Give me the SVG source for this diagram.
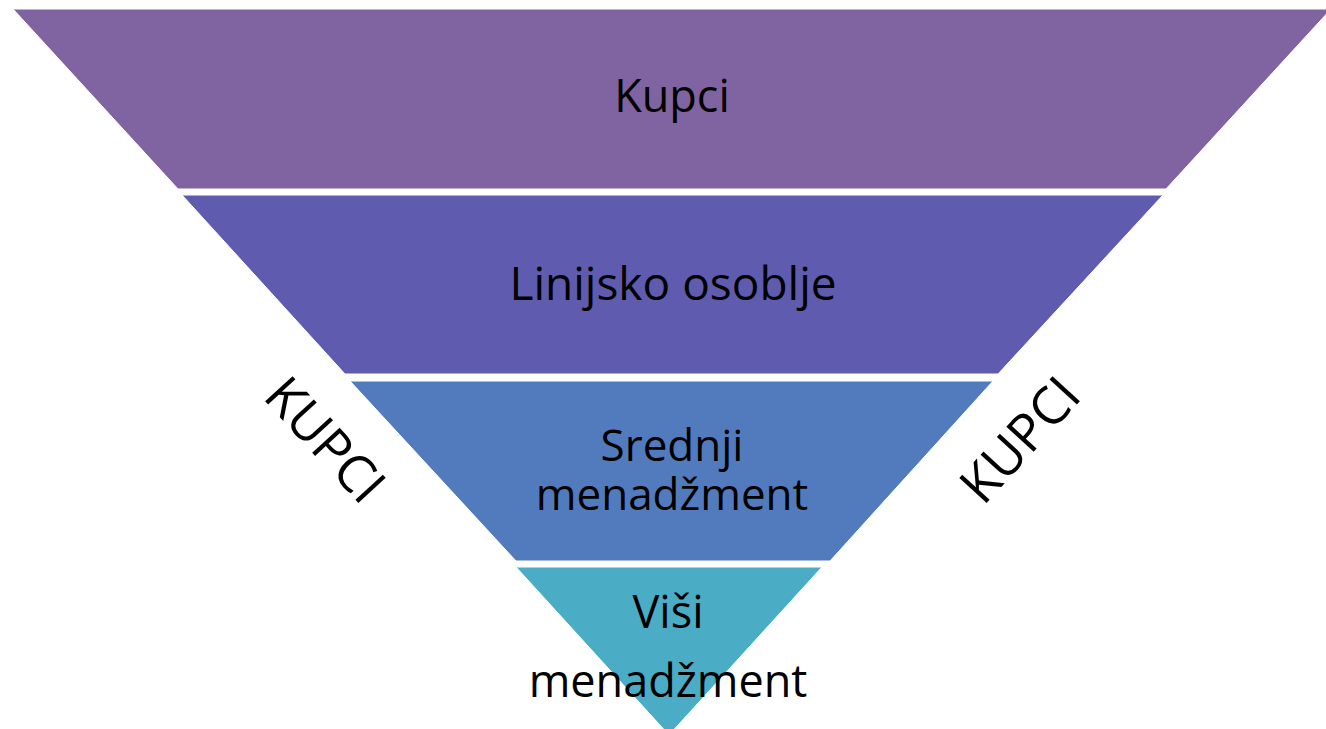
<svg xmlns="http://www.w3.org/2000/svg" width="1326" height="729" viewBox="0 0 1326 729">
<style>
.band{stroke:#ffffff;stroke-width:1}
.t{font-family:"Open Sans","DejaVu Sans",sans-serif;fill:#000000;text-anchor:middle}
.lbl{font-size:45px}
.side{font-size:52px}
</style>
<rect width="1326" height="729" fill="#ffffff"/>
<g id="kupci">
<polygon class="band" fill="#8064A2" points="13,9 1331,9 1166,189 178,189"/>
<text class="t lbl" x="672" y="112">Kupci</text>
</g>
<g id="linijsko-osoblje">
<polygon class="band" fill="#5F5BAE" points="182,195 1163,195 998,374 345,374"/>
<text class="t lbl" x="673" y="300" style="font-size:46px">Linijsko osoblje</text>
</g>
<g id="srednji-menadzment">
<polygon class="band" fill="#527BBD" points="350,381 993,381 830,561 516,561"/>
<text class="t lbl" x="672" y="461" style="font-size:44px">Srednji</text>
<text class="t lbl" x="672" y="510" style="font-size:44px">menadžment</text>
</g>
<g id="visi-menadzment">
<polygon class="band" fill="#4BACC6" points="516,567 822,567 669,735"/>
<text class="t lbl" x="668" y="628">Viši</text>
<text class="t lbl" x="668" y="697">menadžment</text>
</g>
<g id="kupci-left">
<text class="t side" transform="translate(325,440) rotate(47.5)" y="18">KUPCI</text>
</g>
<g id="kupci-right">
<text class="t side" transform="translate(1020,440) rotate(-47.5)" y="18">KUPCI</text>
</g>
<g id="connectors"></g>
</svg>
